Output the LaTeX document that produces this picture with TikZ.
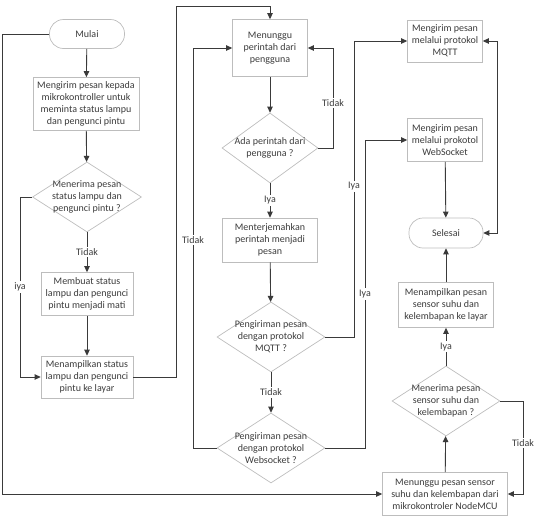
\documentclass[tikz,border=0pt]{standalone}
\usepackage{fontspec}
\setmainfont{Carlito}
\usetikzlibrary{shapes.geometric,arrows.meta}
\definecolor{boxc}{HTML}{BDBDBD}
\definecolor{linec}{HTML}{3A3A3A}
\definecolor{txtc}{HTML}{3C3C3C}
\begin{document}
\begin{tikzpicture}[x=1pt,y=-1pt,
  font=\fontsize{10}{12}\selectfont, text=txtc,
  proc/.style={draw=boxc, line width=0.7pt, fill=white, align=center, inner sep=1pt, minimum width=#1},
  term/.style={draw=boxc, line width=0.7pt, rounded corners=14pt, minimum width=75pt, minimum height=29pt, align=center},
  dec/.style={draw=boxc, line width=0.7pt, diamond, aspect=1.55, minimum width=#1, minimum height=70pt, inner sep=0pt},
  arr/.style={draw=linec, line width=0.9pt, -{Triangle[length=6pt,width=5.5pt]}},
  arrtwo/.style={draw=linec, line width=0.9pt, {Triangle[length=6pt,width=5.5pt]}-{Triangle[length=6pt,width=5.5pt]}},
  lbl/.style={fill=white, inner sep=1.5pt, text=txtc}]
\useasboundingbox (0,0) rectangle (536,517);

% left column
\node[term] (mulai) at (87,34) {Mulai};
\node[proc=106pt, minimum height=53pt] (b1) at (86,104) {Mengirim pesan kepada\\mikrokontroller untuk\\meminta status lampu\\dan pengunci pintu};
\node[dec=109pt, label={[align=center]center:Menerima pesan\\status lampu dan\\pengunci pintu ?}] (d1) at (87,197) {};
\node[proc=92pt, minimum height=43pt] (b2) at (87,294) {Membuat status\\lampu dan pengunci\\pintu menjadi mati};
\node[proc=92pt, minimum height=42pt] (b3) at (87,377) {Menampilkan status\\lampu dan pengunci\\pintu ke layar};

% middle column
\node[proc=75pt, minimum height=57pt] (tunggu) at (270,48) {Menunggu\\perintah dari\\pengguna};
\node[dec=96pt, label={[align=center]center:Ada perintah dari\\pengguna ?}] (d2) at (270,148) {};
\node[proc=95pt, minimum height=44pt] (terj) at (270,240) {Menterjemahkan\\perintah menjadi\\pesan};
\node[dec=108pt, label={[align=center]center:Pengiriman pesan\\dengan protokol\\MQTT ?}] (d3) at (271,337) {};
\node[dec=108pt, label={[align=center]center:Pengiriman pesan\\dengan protokol\\Websocket ?}] (d4) at (271,448) {};

% right column
\node[proc=75pt, minimum height=42pt] (mqtt) at (445,41) {Mengirim pesan\\melalui protokol\\MQTT};
\node[proc=75pt, minimum height=43pt] (ws) at (445,140) {Mengirim pesan\\melalui prokotol\\WebSocket};
\node[term, minimum width=74pt, minimum height=30pt] (selesai) at (446,233) {Selesai};
\node[proc=95pt, minimum height=45pt] (tamp) at (446,305) {Menampilkan pesan\\sensor suhu dan\\kelembapan ke layar};
\node[dec=108pt, label={[align=center]center:Menerima pesan\\sensor suhu dan\\kelembapan ?}] (d5) at (446,401) {};
\node[proc=125pt, minimum height=43pt] (nmcu) at (445,494) {Menunggu pesan sensor\\suhu dan kelembapan dari\\mikrokontroler NodeMCU};

% connectors left
\draw[arr] (mulai) -- (b1);
\draw[arr] (b1) -- (d1);
\draw[arr] (d1) -- node[lbl, pos=0.5] {Tidak} (b2);
\draw[arr] (b2) -- (b3);
\draw[arr] (d1.west) -- (20,197) -- node[lbl] {iya} (20,377) -- (b3.west);
\draw[arr] (b3.east) -- (176,377) -- (176,6) -| (tunggu.north);
\draw[arr] (mulai.west) -- (2,34) -- (2,494) -- (nmcu.west);

% connectors middle
\draw[arr] (tunggu) -- (d2);
\draw[arr] (d2.east) -- (333,148) -- node[lbl, pos=0.45] {Tidak} (333,48) -- (tunggu.east);
\draw[arr] (d2) -- node[lbl] {Iya} (terj);
\draw[arr] (terj) -- (d3);
\draw[arr] (d3) -- node[lbl] {Tidak} (d4);
\draw[arr] (d4.west) -- (193,448) -- node[lbl, pos=0.52] {Tidak} (193,48) -- (tunggu.west);
\draw[arr] (d3.east) -- (354,337) -- node[lbl, pos=0.51] {Iya} (354,41) -- (mqtt.west);
\draw[arr] (d4.east) -- (365,448) -- node[lbl, pos=0.50] {Iya} (365,140) -- (ws.west);

% connectors right
\draw[arr] (ws) -- (selesai);
\draw[arrtwo] (mqtt.east) -- (497,41) -- (497,233) -- (selesai.east);
\draw[arr] (tamp) -- (selesai);
\draw[arr] (d5) -- node[lbl] {Iya} (tamp);
\draw[arr] (nmcu) -- (d5);
\draw[arr] (d5.east) -- (523,401) -- node[lbl, pos=0.45] {Tidak} (523,494) -- (nmcu.east);
\end{tikzpicture}
\end{document}
